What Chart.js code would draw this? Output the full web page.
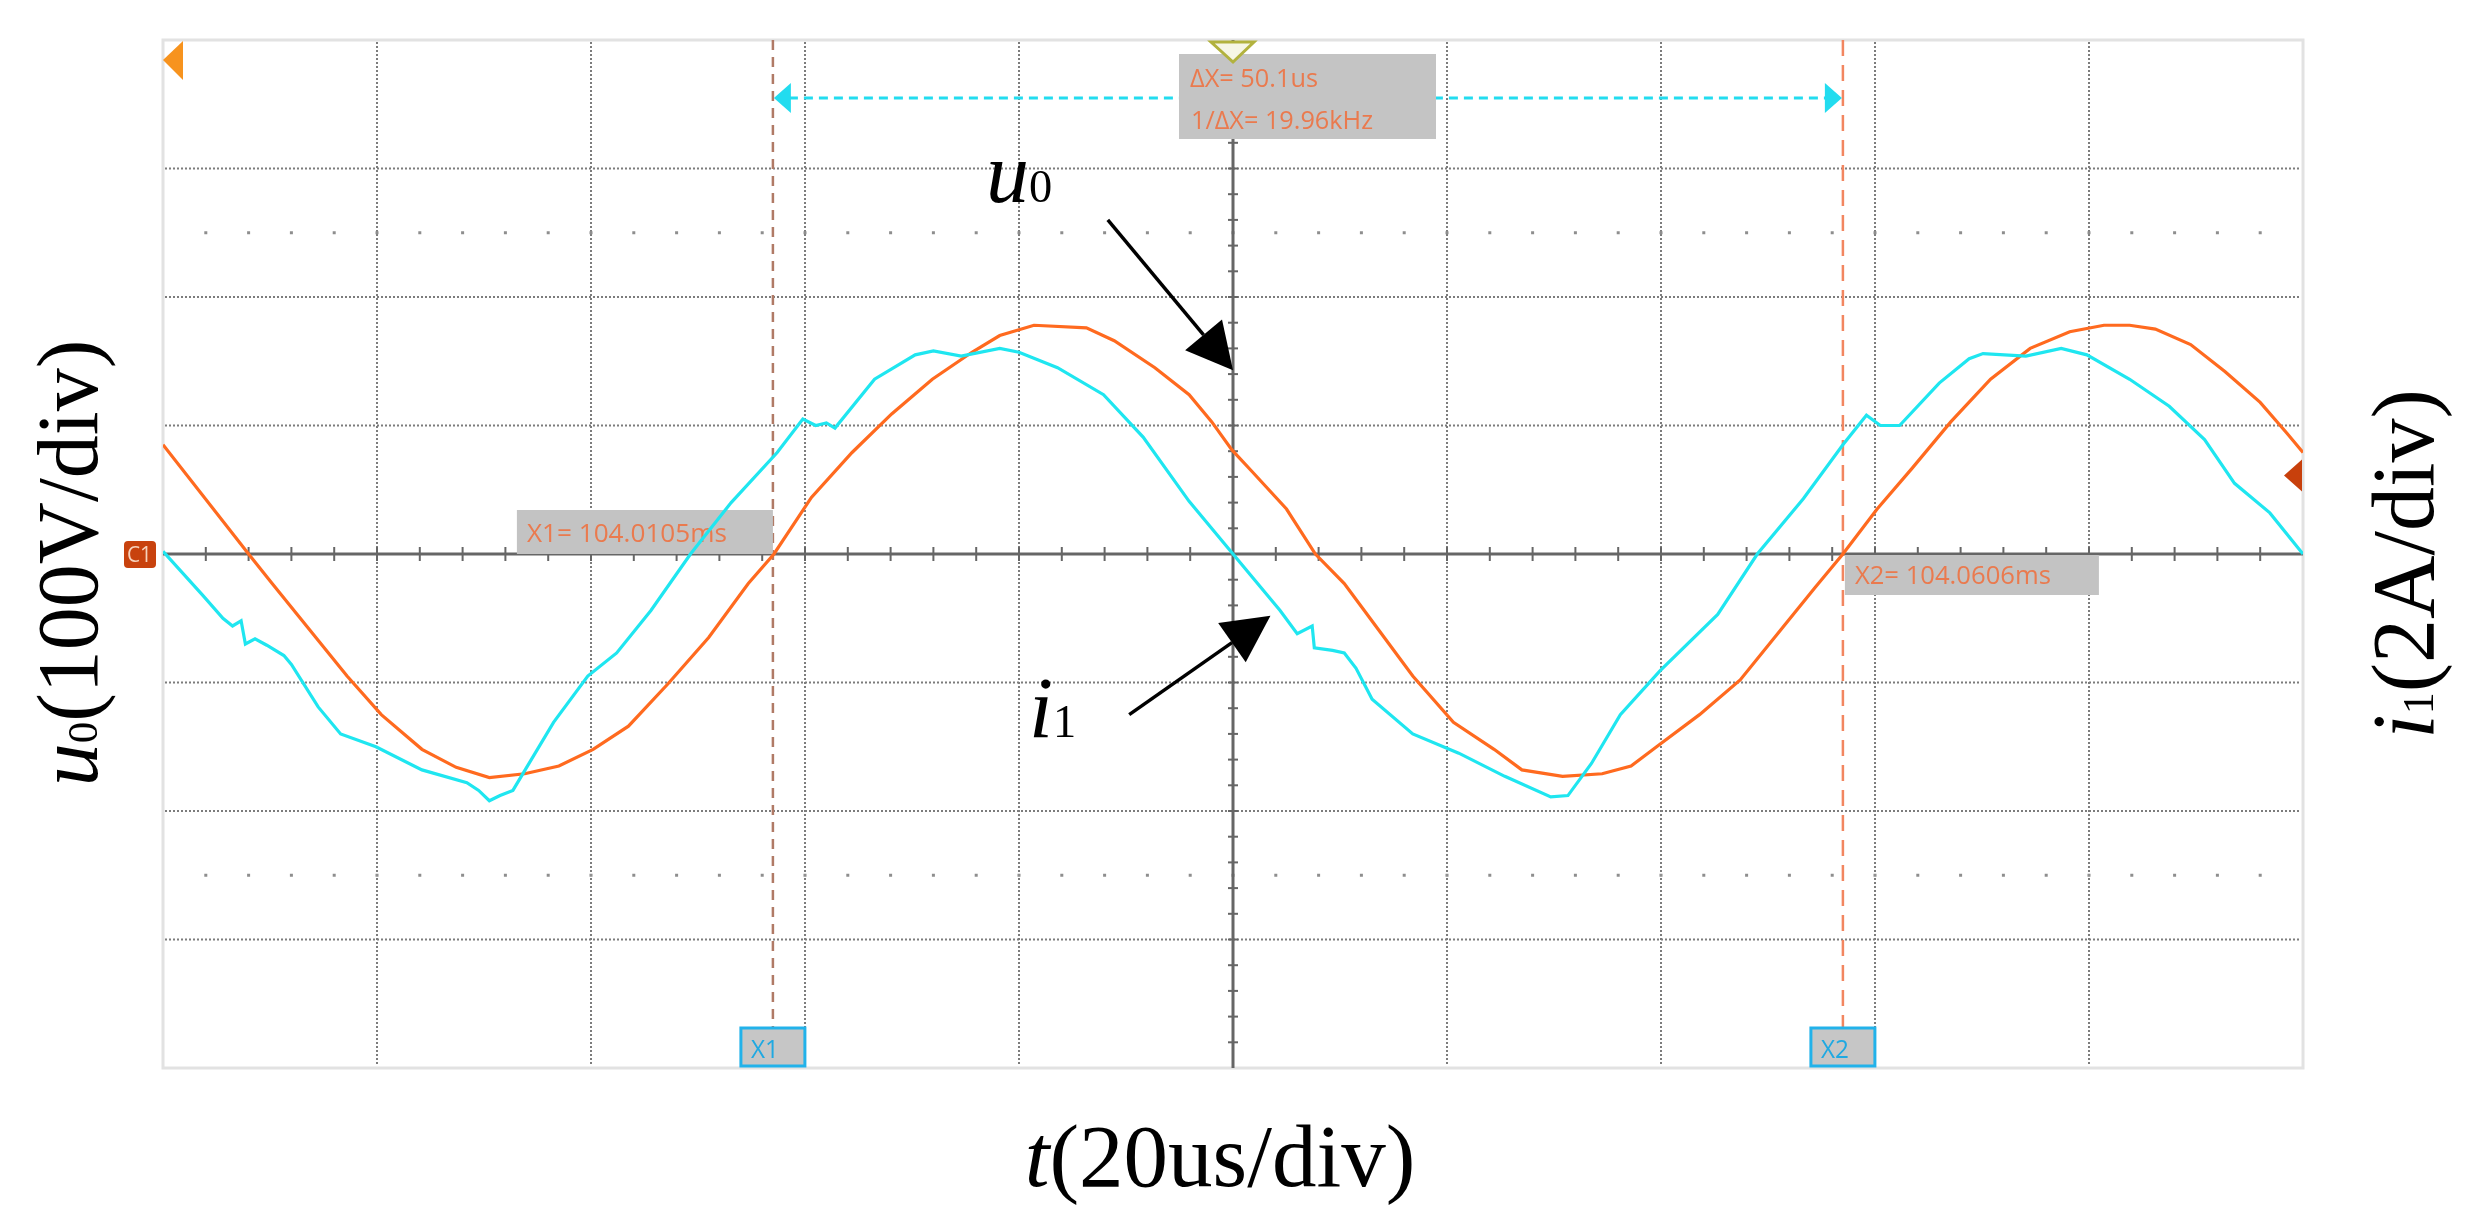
<!DOCTYPE html>
<html>
<head>
<meta charset="utf-8">
<script src="https://cdn.jsdelivr.net/npm/chart.js@4.4.1/dist/chart.umd.min.js"></script>
<style>
body { margin: 0; background: #fff; }
#wrap { position: relative; width: 2482px; height: 1222px; overflow: hidden; }
#scope { position: absolute; left: 0; top: 0; }
.lbl { position: absolute; font-family: "Liberation Serif", serif; color: #000; line-height: 1; white-space: nowrap; }
.sub { font-size: 0.5em; }
.rot { width: 600px; text-align: center; transform: rotate(-90deg); }
</style>
</head>
<body>
<div id="wrap">
  <canvas id="scope" width="2482" height="1222"></canvas>
  <div class="lbl" style="font-size:89px; left:820px; width:800px; text-align:center; top:1112px"><i>t</i>(20us/div)</div>
  <div class="lbl rot" style="font-size:86px; left:-232px; top:520px"><i>u</i><span class="sub">0</span>(100V/div)</div>
  <div class="lbl rot" style="font-size:88px; left:2104px; top:520px"><i>i</i><span class="sub">1</span>(2A/div)</div>
  <div class="lbl" style="font-size:86px; left:986px; top:130px"><i>u</i><span class="sub" style="font-size:0.54em">0</span></div>
  <div class="lbl" style="font-size:86px; left:1029px; top:665px"><i>i</i><span class="sub" style="font-size:0.54em">1</span></div>
</div>
<script>
// data (time in us, 20 us per division)
const u0Time = [0, 8.0, 10.2, 17.2, 20.4, 24.2, 27.4, 30.5, 33.8, 37.0, 40.2, 43.5, 47.2, 51.0, 54.7, 57.1,
  60.6, 64.4, 68.1, 71.9, 75.6, 78.2, 81.4, 86.3, 88.9, 92.7, 95.9, 98.0, 99.9, 101.8, 105.0, 107.7,
  110.4, 113.6, 116.8, 120.6, 124.4, 127.0, 130.8, 134.5, 137.2, 139.9, 143.6, 147.4, 151.2, 154.4, 157.0,
  160.2, 163.5, 167.1, 170.8, 174.5, 178.2, 181.4, 183.8, 186.2, 189.5, 192.7, 196.0, 198.5, 200]
// u0 in volts (100 V per division)
const u0Volts = [85, 0, -23, -95, -125, -152, -166, -174, -171, -165, -152, -134, -101, -65, -23, 0,
  44, 79, 109, 136, 157, 170, 178, 176, 166, 145, 124, 103, 81, 64, 35, 0,
  -23, -59, -95, -131, -152, -168, -173, -171, -165, -148, -125, -98, -59, -26, 0,
  35, 67, 103, 136, 160, 173, 178, 178, 175, 163, 142, 118, 94, 79]

const i1Time = [0, 3.7, 5.6, 6.5, 7.3, 7.7, 8.6, 9.7, 11.3, 12.0, 14.5, 16.6, 19.9, 24.2, 28.4, 29.5, 30.5,
  31.5, 32.7, 36.5, 39.7, 42.4, 45.6, 49.3, 53.1, 57.4, 59.8, 61.0, 62.0, 62.8, 66.5, 70.3, 72.0, 74.6,
  78.2, 80.0, 83.6, 87.9, 91.6, 95.9, 100, 104.4, 106.0, 107.4, 107.6, 109.3, 110.4, 111.5, 113.0, 116.8,
  121.1, 125.4, 129.7, 131.3, 133.5, 136.2, 139.9, 145.3, 149.0, 153.3, 157.0, 159.2, 160.5, 162.3, 166.0,
  168.8, 170.1, 174.1, 177.4, 179.8, 183.8, 187.5, 190.8, 193.6, 196.9, 200]
// i1 in amps (2 A per division)
const i1Amps = [0.04, -0.64, -1.00, -1.12, -1.04, -1.40, -1.32, -1.42, -1.58, -1.72, -2.38, -2.80, -3.00, -3.36, -3.56, -3.68, -3.84,
  -3.76, -3.68, -2.62, -1.90, -1.54, -0.88, 0, 0.80, 1.58, 2.10, 2.00, 2.04, 1.96, 2.72, 3.10, 3.16, 3.08,
  3.20, 3.14, 2.90, 2.48, 1.82, 0.82, 0, -0.88, -1.24, -1.12, -1.46, -1.50, -1.54, -1.78, -2.26, -2.80,
  -3.10, -3.46, -3.78, -3.76, -3.26, -2.50, -1.82, -0.94, 0, 0.86, 1.70, 2.16, 2.00, 2.00, 2.66,
  3.04, 3.12, 3.08, 3.20, 3.10, 2.72, 2.30, 1.78, 1.10, 0.64, 0]

// screen graticule and cursors
const timeDivs = [0, 20, 40, 60, 80, 100, 120, 140, 160, 180, 200]
const voltDivs = [-400, -300, -200, -100, 0, 100, 200, 300, 400]
const cursorTimes = [57, 157]
const cursorLabels = ['X1= 104.0105ms', 'X2= 104.0606ms']
const deltaLabels = ['\u0394X= 50.1us', '1/\u0394X= 19.96kHz']

const line = (ctx, x0, y0, x1, y1) => {
    ctx.beginPath()
    ctx.moveTo(x0, y0)
    ctx.lineTo(x1, y1)
    ctx.stroke()
}

const fitText = (ctx, str, left, base, width, color, size) => {
    ctx.font = size + 'px "Open Sans"'
    const w = ctx.measureText(str).width
    ctx.save()
    ctx.translate(left, base)
    ctx.scale(width / w, 1)
    ctx.fillStyle = color
    ctx.fillText(str, 0, 0)
    ctx.restore()
}

const tri = (ctx, pts, fill, stroke) => {
    ctx.beginPath()
    ctx.moveTo(pts[0][0], pts[0][1])
    ctx.lineTo(pts[1][0], pts[1][1])
    ctx.lineTo(pts[2][0], pts[2][1])
    ctx.closePath()
    if (fill) { ctx.fillStyle = fill; ctx.fill() }
    if (stroke) { ctx.strokeStyle = stroke; ctx.stroke() }
}

const arrow = (ctx, x0, y0, x1, y1, len, half) => {
    const a = Math.atan2(y1 - y0, x1 - x0)
    const bx = x1 - len * Math.cos(a), by = y1 - len * Math.sin(a)
    line(ctx, x0, y0, bx, by)
    tri(ctx, [[x1, y1], [bx - half * Math.sin(a), by + half * Math.cos(a)], [bx + half * Math.sin(a), by - half * Math.cos(a)]], ctx.fillStyle)
}

const graticule = {
    id: 'graticule',
    beforeDatasetsDraw(chart) {
        const { ctx, chartArea: a, scales: { x, y } } = chart
        const X = v => x.getPixelForValue(v)
        const Y = v => y.getPixelForValue(v)
        ctx.save()

        // frame
        ctx.strokeStyle = '#e2e2e2'
        ctx.lineWidth = 3
        ctx.strokeRect(a.left, a.top, a.width, a.height)

        // dotted divisions
        ctx.strokeStyle = '#7c7c7c'
        ctx.lineWidth = 2
        ctx.setLineDash([2, 2])
        timeDivs.forEach(t => { if (t > 0 && t < 200 && t !== 100) line(ctx, X(t), a.top + 2, X(t), a.bottom - 2) })
        voltDivs.forEach(v => { if (v > -400 && v < 400 && v !== 0) line(ctx, a.left + 2, Y(v), a.right - 2, Y(v)) })
        ctx.setLineDash([])

        // sparse rows of dots
        ctx.fillStyle = '#8e8e8e'
        for (let t = 4; t < 200; t += 4) {
            ctx.fillRect(X(t) - 1.5, Y(250) - 1.5, 3, 3)
            ctx.fillRect(X(t) - 1.5, Y(-250) - 1.5, 3, 3)
        }

        // centre axes with minor ticks
        ctx.strokeStyle = '#666'
        ctx.lineWidth = 3
        line(ctx, a.left, Y(0), a.right, Y(0))
        line(ctx, X(100), a.top, X(100), a.bottom)
        ctx.lineWidth = 2
        for (let t = 4; t < 200; t += 4) line(ctx, X(t), Y(0) - 7, X(t), Y(0) + 7)
        for (let v = -380; v < 400; v += 20) line(ctx, X(100) - 5, Y(v), X(100) + 5, Y(v))

        // cursors
        const c1 = X(cursorTimes[0]), c2 = X(cursorTimes[1])
        ctx.lineWidth = 2.5
        ctx.strokeStyle = '#b07a66'
        ctx.setLineDash([10, 7])
        line(ctx, c1, a.top, c1, a.bottom - 40)
        ctx.strokeStyle = '#f28660'
        ctx.setLineDash([16, 9])
        line(ctx, c2, a.top, c2, a.bottom - 40)
        ctx.setLineDash([])

        // cursor readouts
        ctx.fillStyle = '#c3c3c3'
        ctx.fillRect(c1 - 256, Y(0) - 44, 256, 44)
        fitText(ctx, cursorLabels[0], c1 - 246, Y(0) - 12, 200, '#ea7a4e', 25)
        ctx.fillStyle = '#c3c3c3'
        ctx.fillRect(c2 + 2, Y(0) + 1, 254, 40)
        fitText(ctx, cursorLabels[1], c2 + 12, Y(0) + 30, 196, '#ea7a4e', 25)

        // cursor tabs at the bottom
        cursorTimes.forEach((t, i) => {
            const cx = X(t)
            ctx.fillStyle = '#c6c6c6'
            ctx.fillRect(cx - 32, a.bottom - 40, 64, 38)
            ctx.strokeStyle = '#22b2ea'
            ctx.lineWidth = 3
            ctx.strokeRect(cx - 32, a.bottom - 40, 64, 38)
            fitText(ctx, 'X' + (i + 1), cx - 22, a.bottom - 10, 28, '#1fa9e2', 26)
        })

        // delta arrow between cursors
        const ay = a.top + 58
        ctx.strokeStyle = '#22dcef'
        ctx.lineWidth = 3
        ctx.setLineDash([9, 6])
        line(ctx, c1 + 16, ay, c2 - 16, ay)
        ctx.setLineDash([])
        tri(ctx, [[c1 + 1, ay], [c1 + 18, ay - 15], [c1 + 18, ay + 15]], '#22dcef')
        tri(ctx, [[c2 - 1, ay], [c2 - 18, ay - 15], [c2 - 18, ay + 15]], '#22dcef')

        // delta readout
        ctx.fillStyle = '#c4c4c4'
        ctx.fillRect(X(100) - 54, a.top + 14, 257, 85)
        fitText(ctx, deltaLabels[0], X(100) - 43, a.top + 47, 128, '#ea7a4e', 25)
        fitText(ctx, deltaLabels[1], X(100) - 42, a.top + 89, 182, '#ea7a4e', 25)

        // trigger marker
        ctx.lineWidth = 3
        tri(ctx, [[X(100) - 22, a.top + 2], [X(100) + 21, a.top + 2], [X(100), a.top + 22]], '#f6f6e6', '#b2b23e')

        // channel markers
        tri(ctx, [[a.left, a.top + 20], [a.left + 20, a.top + 1], [a.left + 20, a.top + 40]], '#f7931e')
        ctx.fillStyle = '#c8420e'
        ctx.beginPath()
        ctx.roundRect(a.left - 39, Y(0) - 13, 32, 27, 4)
        ctx.fill()
        fitText(ctx, 'C1', a.left - 36, Y(0) + 8, 25, '#f6d2bc', 21)
        ctx.restore()
    },
    afterDatasetsDraw(chart) {
        const { ctx, chartArea: a, scales: { x, y } } = chart
        const X = v => x.getPixelForValue(v)
        const Y = v => y.getPixelForValue(v)
        ctx.save()
        tri(ctx, [[a.right - 19, Y(61)], [a.right - 1, Y(61) - 16], [a.right - 1, Y(61) + 16]], '#c8400c')

        // annotation arrows
        ctx.strokeStyle = '#000'
        ctx.fillStyle = '#000'
        ctx.lineWidth = 3.5
        arrow(ctx, X(88.3), Y(260), X(100), Y(143), 46, 24)
        arrow(ctx, X(90.3), Y(-125), X(103.5), Y(-48), 47, 24)
        ctx.restore()
    }
}

const toPoints = (ts, vs) => ts.map((t, i) => ({ x: t, y: vs[i] }))

new Chart(document.getElementById('scope'), {
    type: 'line',
    data: {
        datasets: [{
            label: 'u0',
            data: toPoints(u0Time, u0Volts),
            yAxisID: 'y',
            borderColor: '#ff6a1f',
            borderWidth: 3.2,
            pointRadius: 0,
            order: 2
        }, {
            label: 'i1',
            data: toPoints(i1Time, i1Amps),
            yAxisID: 'y1',
            borderColor: '#1fe6f0',
            borderWidth: 3.2,
            pointRadius: 0,
            order: 1
        }]
    },
    options: {
        responsive: false,
        devicePixelRatio: 1,
        animation: false,
        layout: { padding: { left: 163, right: 179, top: 40, bottom: 154 } },
        plugins: { legend: { display: false }, tooltip: { enabled: false } },
        scales: {
            x: { type: 'linear', min: 0, max: 200, display: false },
            y: { min: -400, max: 400, display: false },
            y1: { min: -8, max: 8, display: false }
        }
    },
    plugins: [graticule]
})
</script>
</body>
</html>
